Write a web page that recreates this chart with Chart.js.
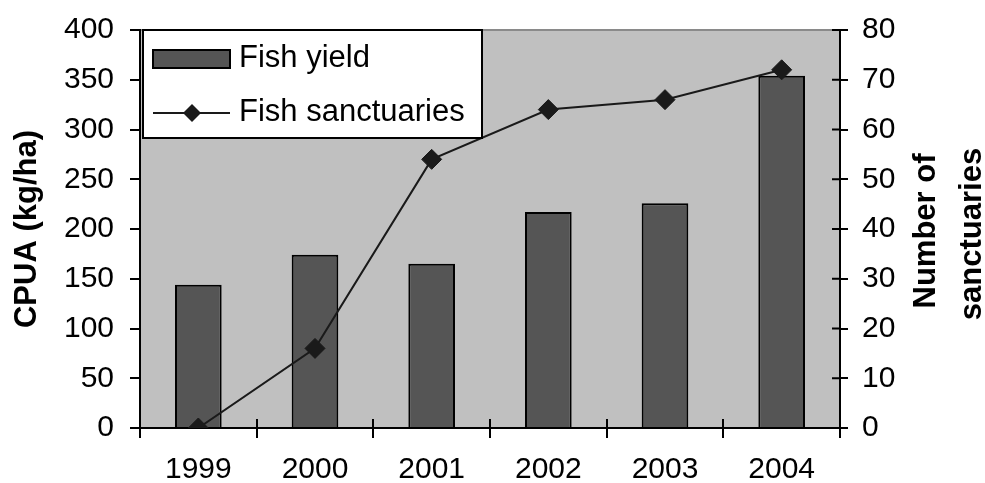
<!DOCTYPE html>
<html>
<head>
<meta charset="utf-8">
<script src="https://cdn.jsdelivr.net/npm/chart.js@4/dist/chart.umd.min.js"></script>
<style>
  html, body { margin: 0; padding: 0; background: #fff; }
  #wrap { width: 985px; height: 483px; }
</style>
</head>
<body>
<div id="wrap"><canvas id="fish-chart"></canvas></div>
<script>
const years = ["1999", "2000", "2001", "2002", "2003", "2004"];
const fishYield = [144, 174, 165, 217, 226, 354];
const sanctuaries = [0, 16, 54, 64, 66, 72];

const FONT = "'Liberation Sans', Arial, sans-serif";

// grey plot background, inner tick halves, titles and the boxed legend
const decorations = {
  id: "decorations",
  beforeDraw(chart) {
    const { ctx, chartArea: a } = chart;
    ctx.save();
    ctx.fillStyle = "#c0c0c0";
    ctx.fillRect(a.left, a.top, a.right - a.left, a.bottom - a.top);
    ctx.strokeStyle = "#8a8a8a";
    ctx.lineWidth = 2;
    ctx.beginPath();
    ctx.moveTo(a.left, a.top);
    ctx.lineTo(a.right, a.top);
    ctx.stroke();
    ctx.restore();
  },
  afterDraw(chart) {
    const { ctx, chartArea: a, scales } = chart;
    ctx.save();
    ctx.strokeStyle = "#000";
    ctx.lineWidth = 2;
    ctx.beginPath();
    const x = scales.x;
    const step = x.width / years.length;
    for (let i = 0; i <= years.length; i++) {
      const px = Math.round(x.left + i * step);
      ctx.moveTo(px, a.bottom);
      ctx.lineTo(px, a.bottom - 9);
    }
    scales.y1.ticks.forEach((t, i) => {
      const py = scales.y1.getPixelForTick(i);
      ctx.moveTo(a.right, py);
      ctx.lineTo(a.right - 8, py);
    });
    ctx.stroke();

    // axis titles
    ctx.fillStyle = "#000";
    ctx.font = "bold 31px " + FONT;
    ctx.textAlign = "center";
    ctx.textBaseline = "middle";
    ctx.save();
    ctx.translate(27, 229);
    ctx.rotate(-Math.PI / 2);
    ctx.fillText("CPUA (kg/ha)", 0, 0);
    ctx.restore();
    ctx.save();
    ctx.translate(926, 231);
    ctx.rotate(-Math.PI / 2);
    ctx.fillText("Number of", 0, 0);
    ctx.restore();
    ctx.save();
    ctx.translate(972, 234);
    ctx.rotate(-Math.PI / 2);
    ctx.fillText("sanctuaries", 0, 0);
    ctx.restore();

    // legend box
    const lx = a.left + 3, ly = a.top, lw = 339, lh = 108;
    ctx.fillStyle = "#fff";
    ctx.fillRect(lx, ly, lw, lh);
    ctx.strokeStyle = "#000";
    ctx.lineWidth = 2;
    ctx.strokeRect(lx, ly, lw, lh);

    ctx.fillStyle = "#555555";
    ctx.fillRect(lx + 10, ly + 20, 77, 18);
    ctx.strokeRect(lx + 10, ly + 20, 77, 18);

    ctx.strokeStyle = "#1a1a1a";
    ctx.beginPath();
    ctx.moveTo(lx + 10, ly + 83);
    ctx.lineTo(lx + 87, ly + 83);
    ctx.stroke();
    ctx.fillStyle = "#1a1a1a";
    ctx.beginPath();
    const cx = lx + 49, cy = ly + 83, r = 9;
    ctx.moveTo(cx - r, cy);
    ctx.lineTo(cx, cy - r);
    ctx.lineTo(cx + r, cy);
    ctx.lineTo(cx, cy + r);
    ctx.closePath();
    ctx.fill();

    ctx.fillStyle = "#000";
    ctx.font = "31px " + FONT;
    ctx.textAlign = "left";
    ctx.fillText("Fish yield", lx + 96, ly + 28);
    ctx.fillText("Fish sanctuaries", lx + 96, ly + 82);
    ctx.restore();
  },
};

new Chart(document.getElementById("fish-chart"), {
  data: {
    labels: years,
    datasets: [
      {
        type: "line",
        label: "Fish sanctuaries",
        data: sanctuaries,
        yAxisID: "y1",
        borderColor: "#1a1a1a",
        backgroundColor: "#1a1a1a",
        borderWidth: 2,
        pointStyle: "rectRot",
        pointRadius: 10,
        pointBorderWidth: 1,
        tension: 0,
        order: 0,
      },
      {
        type: "bar",
        label: "Fish yield",
        data: fishYield,
        yAxisID: "y",
        backgroundColor: "#555555",
        borderColor: "#000",
        borderWidth: 2,
        categoryPercentage: 1,
        barPercentage: 0.4,
        order: 1,
      },
    ],
  },
  options: {
    responsive: true,
    maintainAspectRatio: false,
    animation: false,
    layout: { padding: { top: 30 } },
    plugins: {
      legend: { display: false },
      tooltip: { enabled: false },
    },
    scales: {
      x: {
        offset: true,
        grid: { offset: true, drawOnChartArea: false, tickLength: 10, color: "#000", lineWidth: 2 },
        border: { color: "#000", width: 2 },
        ticks: { color: "#000", font: { family: FONT, size: 30 }, padding: 14 },
        afterFit: (s) => { s.height = 55; s.paddingLeft = 0; s.paddingRight = 0; },
      },
      y: {
        position: "left",
        min: 0,
        max: 400,
        grid: { drawOnChartArea: false, tickLength: 10, color: "#000", lineWidth: 2 },
        border: { color: "#000", width: 2 },
        ticks: { stepSize: 50, color: "#000", font: { family: FONT, size: 30 }, padding: 16 },
        afterFit: (s) => { s.width = 140; s.paddingTop = 0; s.paddingBottom = 0; },
      },
      y1: {
        position: "right",
        min: 0,
        max: 80,
        grid: { drawOnChartArea: false, tickLength: 8, color: "#000", lineWidth: 2 },
        border: { color: "#000", width: 2 },
        ticks: { stepSize: 10, color: "#000", font: { family: FONT, size: 30 }, padding: 14 },
        afterFit: (s) => { s.width = 145; s.paddingTop = 0; s.paddingBottom = 0; },
      },
    },
  },
  plugins: [decorations],
});
</script>
</body>
</html>
